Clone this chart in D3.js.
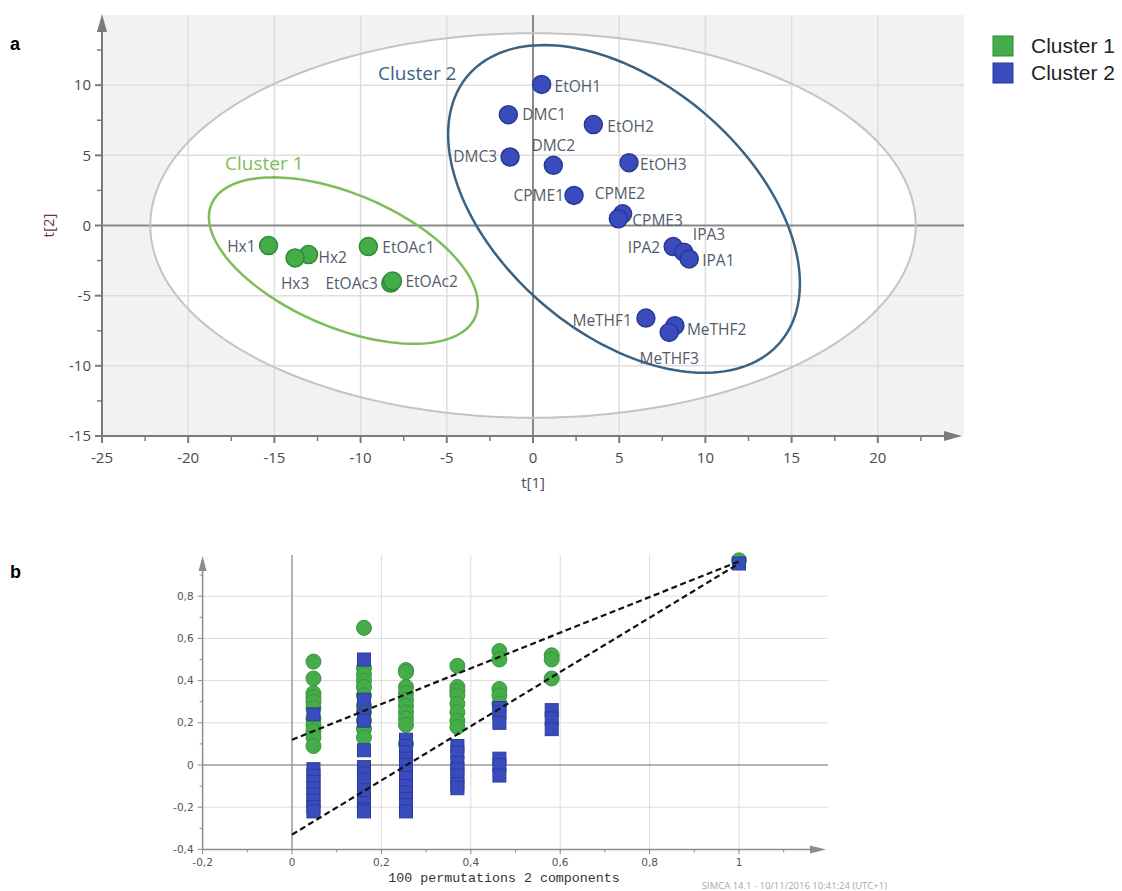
<!DOCTYPE html>
<html><head><meta charset="utf-8">
<script src="https://cdn.jsdelivr.net/npm/d3@7"></script>
<style>body{margin:0;background:#fff;} svg{display:block}</style>
</head><body>
<svg id="c" width="1122" height="891"></svg>
<script>
// ---------- Panel a data (PCA scores) ----------
const clusterNames = ["Cluster 1", "Cluster 2"];
const scoreNames = ["Hx1","Hx2","Hx3","EtOAc1","EtOAc3","EtOAc2","EtOH1","EtOH2","EtOH3","DMC1","DMC2","DMC3","CPME1","CPME2","CPME3","IPA2","IPA3","IPA1","MeTHF1","MeTHF2","MeTHF3"];
const scoreT1 = [-15.34,-13.02,-13.8,-9.55,-8.25,-8.15,0.5,3.5,5.57,-1.43,1.18,-1.33,2.38,5.2,4.95,8.13,8.75,9.06,6.55,8.23,7.9];
const scoreT2 = [-1.43,-2.07,-2.31,-1.5,-4.1,-3.95,10.05,7.19,4.48,7.9,4.29,4.88,2.14,0.83,0.48,-1.5,-1.9,-2.38,-6.6,-7.14,-7.62];
const scoreCluster = [0,0,0,0,0,0,1,1,1,1,1,1,1,1,1,1,1,1,1,1,1];
const xTicksA = [-25,-20,-15,-10,-5,0,5,10,15,20];
const yTicksA = [-15,-10,-5,0,5,10];
// ellipses: centre and two conjugate semi-axis vectors, in t[1]/t[2] units
const hotellingEllipse = {c:[0,0], u:[22.2,0], v:[0,13.7]};
const cluster1Ellipse = {c:[-11.0,-2.5], u:[7.65,-4.02], v:[1.51,4.36]};
const cluster2Ellipse = {c:[5.28,1.18], u:[9.06,-9.5], v:[4.69,6.79]};
const clusterLabelPos = [[-17.86,4.43],[-8.99,10.86]];

// ---------- Panel b data (permutation test) ----------
const permX = [0.048, 0.161, 0.255, 0.370, 0.464, 0.581, 1.0];
const r2Values = [
  [0.49,0.41,0.34,0.32,0.30,0.27,0.22,0.19,0.16,0.13,0.09],
  [0.65,0.46,0.43,0.40,0.37,0.33,0.28,0.25,0.21,0.17,0.13],
  [0.45,0.44,0.37,0.34,0.31,0.28,0.25,0.22,0.19,0.10],
  [0.47,0.37,0.35,0.33,0.29,0.25,0.21,0.18],
  [0.54,0.50,0.36,0.33,0.29],
  [0.52,0.50,0.41],
  [0.97]
];
const q2Values = [
  [0.24,-0.02,-0.05,-0.08,-0.11,-0.14,-0.17,-0.20,-0.22],
  [0.50,0.31,0.24,0.21,0.07,-0.01,-0.04,-0.07,-0.12,-0.15,-0.18,-0.21,-0.22],
  [0.12,0.09,0.06,0.03,0.0,-0.03,-0.06,-0.10,-0.13,-0.16,-0.19,-0.22],
  [0.09,0.06,0.01,-0.02,-0.05,-0.09,-0.11],
  [0.27,0.25,0.20,0.03,0.0,-0.05],
  [0.26,0.22,0.17],
  [0.955]
];
const r2Line = [[0,0.12],[1,0.965]];
const q2Line = [[0,-0.33],[1,0.955]];
const xTicksB = [-0.2,0,0.2,0.4,0.6,0.8,1];
const yTicksB = [-0.4,-0.2,0,0.2,0.4,0.6,0.8];
const xTitleB = "100 permutations 2 components";
const footerB = "SIMCA 14.1 - 10/11/2016 10:41:24 (UTC+1)";

// ---------- styles ----------
const fillCol = ["#44ac49", "#3a4cbd"];
const strokeCol = ["#2e8a36", "#283a92"];
const labelOffsets = {
  Hx1:[-13,1,"end"], Hx2:[10,3,"start"], Hx3:[0,26,"middle"],
  EtOAc1:[14,1,"start"], EtOAc3:[-13,1,"end"], EtOAc2:[13,1,"start"],
  EtOH1:[13,2,"start"], EtOH2:[14,2,"start"], EtOH3:[11,2,"start"],
  DMC1:[14,0,"start"], DMC2:[0,-20,"middle"], DMC3:[-13,0,"end"],
  CPME1:[-10,0,"end"], CPME2:[-28,-20,"start"], CPME3:[14,2,"start"],
  IPA2:[-13,1,"end"], IPA3:[9,-18,"start"], IPA1:[13,2,"start"],
  MeTHF1:[-14,2,"end"], MeTHF2:[12,4,"start"], MeTHF3:[0,26,"middle"]
};

const svg = d3.select("#c");
const font = "'Open Sans', 'Noto Sans', sans-serif";

// =============== PANEL A ===============
const xA = d3.scaleLinear().domain([-25,25]).range([102,964]);
const yA = d3.scaleLinear().domain([-15,15]).range([436,15]);
const gA = svg.append("g");

gA.append("rect").attr("x",xA(-25)).attr("y",yA(15)).attr("width",xA(25)-xA(-25)).attr("height",yA(-15)-yA(15)).attr("fill","#f2f2f2");

function ellipsePath(e){
  const pts = d3.range(0, 361, 2).map(a => {
    const t = a*Math.PI/180;
    return [xA(e.c[0] + e.u[0]*Math.cos(t) + e.v[0]*Math.sin(t)), yA(e.c[1] + e.u[1]*Math.cos(t) + e.v[1]*Math.sin(t))];
  });
  return d3.line()(pts) + "Z";
}
gA.append("path").attr("d", ellipsePath(hotellingEllipse)).attr("fill","#fff");

// grid
gA.selectAll(".gvx").data(xTicksA.filter(d=>d>-25 && d!==0)).join("line")
  .attr("x1",d=>xA(d)).attr("x2",d=>xA(d)).attr("y1",yA(15)).attr("y2",yA(-15))
  .attr("stroke","#dedede").attr("stroke-width",1.5);
gA.selectAll(".gvy").data(yTicksA.filter(d=>d>-15 && d!==0)).join("line")
  .attr("x1",xA(-25)).attr("x2",xA(25)).attr("y1",d=>yA(d)).attr("y2",d=>yA(d))
  .attr("stroke","#dedede").attr("stroke-width",1.5);
gA.append("line").attr("x1",xA(0)).attr("x2",xA(0)).attr("y1",yA(15)).attr("y2",yA(-15)).attr("stroke","#8a8a8a").attr("stroke-width",2);
gA.append("line").attr("x1",xA(-25)).attr("x2",xA(25)).attr("y1",yA(0)).attr("y2",yA(0)).attr("stroke","#8a8a8a").attr("stroke-width",2);

gA.append("path").attr("d", ellipsePath(hotellingEllipse)).attr("fill","none").attr("stroke","#c4c4c4").attr("stroke-width",2);
gA.append("path").attr("d", ellipsePath(cluster1Ellipse)).attr("fill","none").attr("stroke","#7dbd58").attr("stroke-width",2.5);
gA.append("path").attr("d", ellipsePath(cluster2Ellipse)).attr("fill","none").attr("stroke","#3a6283").attr("stroke-width",2.5);

// axes
const axCol = "#7a7a7a";
gA.append("line").attr("x1",xA(-25)).attr("x2",xA(25)-6).attr("y1",yA(-15)).attr("y2",yA(-15)).attr("stroke",axCol).attr("stroke-width",2);
gA.append("line").attr("x1",xA(-25)).attr("x2",xA(-25)).attr("y1",yA(-15)).attr("y2",yA(15)+6).attr("stroke",axCol).attr("stroke-width",2);
gA.append("path").attr("d",`M${xA(25)-2},${yA(-15)} l-18,-5 l0,10 Z`).attr("fill",axCol);
gA.append("path").attr("d",`M${xA(-25)},${yA(15)-1} l-5,18 l10,0 Z`).attr("fill",axCol);

const minorXA = d3.range(-22.5, 25, 5);
const minorYA = d3.range(-12.5, 15, 5);
gA.selectAll(".tx").data(xTicksA).join("line").attr("x1",d=>xA(d)).attr("x2",d=>xA(d)).attr("y1",yA(-15)).attr("y2",yA(-15)+7).attr("stroke",axCol).attr("stroke-width",2);
gA.selectAll(".tmx").data(minorXA).join("line").attr("x1",d=>xA(d)).attr("x2",d=>xA(d)).attr("y1",yA(-15)).attr("y2",yA(-15)+5).attr("stroke",axCol).attr("stroke-width",1.5);
gA.selectAll(".ty").data(yTicksA).join("line").attr("x1",xA(-25)-7).attr("x2",xA(-25)).attr("y1",d=>yA(d)).attr("y2",d=>yA(d)).attr("stroke",axCol).attr("stroke-width",2);
gA.selectAll(".tmy").data(minorYA).join("line").attr("x1",xA(-25)-5).attr("x2",xA(-25)).attr("y1",d=>yA(d)).attr("y2",d=>yA(d)).attr("stroke",axCol).attr("stroke-width",1.5);

gA.selectAll(".lx").data(xTicksA).join("text").attr("x",d=>xA(d)).attr("y",yA(-15)+27)
  .attr("text-anchor","middle").attr("font-family",font).attr("font-size",15).attr("fill","#4a4a4a").text(d=>d);
gA.selectAll(".ly").data(yTicksA).join("text").attr("x",xA(-25)-11).attr("y",d=>yA(d)).attr("dy","0.35em")
  .attr("text-anchor","end").attr("font-family",font).attr("font-size",15).attr("fill","#4a4a4a").text(d=>d);
gA.append("text").attr("x",xA(0)).attr("y",yA(-15)+52).attr("text-anchor","middle").attr("font-family",font).attr("font-size",15).attr("fill","#4a4f5e").text("t[1]");
gA.append("text").attr("transform",`translate(${xA(-25)-48},${yA(0)}) rotate(-90)`).attr("text-anchor","middle").attr("font-family",font).attr("font-size",15).attr("fill","#6a3a3a").text("t[2]");

// cluster annotations
gA.selectAll(".cl").data(clusterNames).join("text")
  .attr("x",(d,i)=>xA(clusterLabelPos[i][0])).attr("y",(d,i)=>yA(clusterLabelPos[i][1])).attr("dy","0.35em")
  .attr("font-family",font).attr("font-size",19).attr("fill",(d,i)=>i===0?"#80bd5e":"#3a6283").text(d=>d);

// points
const pts = scoreNames.map((n,i)=>({n, x:scoreT1[i], y:scoreT2[i], c:scoreCluster[i]}));
gA.selectAll(".pt").data(pts).join("circle").attr("cx",d=>xA(d.x)).attr("cy",d=>yA(d.y)).attr("r",9)
  .attr("fill",d=>fillCol[d.c]).attr("stroke",d=>strokeCol[d.c]).attr("stroke-width",1.5);
gA.selectAll(".pl").data(pts).join("text")
  .attr("x",d=>xA(d.x)+labelOffsets[d.n][0]).attr("y",d=>yA(d.y)+labelOffsets[d.n][1]).attr("dy","0.35em")
  .attr("text-anchor",d=>labelOffsets[d.n][2]).attr("font-family",font).attr("font-size",15.5).attr("fill","#525c6c").text(d=>d.n);

// legend
const lg = svg.append("g");
lg.selectAll("rect").data(clusterNames).join("rect").attr("x",993).attr("y",(d,i)=>36+i*27).attr("width",20).attr("height",20)
  .attr("fill",(d,i)=>fillCol[i]).attr("stroke",(d,i)=>strokeCol[i]).attr("stroke-width",1);
lg.selectAll("text").data(clusterNames).join("text").attr("x",1031).attr("y",(d,i)=>46+i*27).attr("dy","0.35em")
  .attr("font-family","'Liberation Sans', Arial, sans-serif").attr("font-size",21).attr("fill","#222").text(d=>d);

// panel letters
svg.append("text").attr("x",10).attr("y",50).attr("font-family","'Liberation Sans', Arial, sans-serif").attr("font-weight","bold").attr("font-size",18).text("a");
svg.append("text").attr("x",10).attr("y",578).attr("font-family","'Liberation Sans', Arial, sans-serif").attr("font-weight","bold").attr("font-size",18).text("b");

// =============== PANEL B ===============
const xB = d3.scaleLinear().domain([-0.2,1.2]).range([202.6,828.4]);
const yB = d3.scaleLinear().domain([-0.4,1.0]).range([849.4,554]);
const gB = svg.append("g");
const fmtB = d => d===0 ? "0" : (d===1 ? "1" : d3.format(".1f")(d).replace(".",",").replace("−","-"));

gB.selectAll(".gx").data(xTicksB.filter(d=>d>0)).join("line").attr("x1",d=>xB(d)).attr("x2",d=>xB(d)).attr("y1",555).attr("y2",yB(-0.4))
  .attr("stroke","#dcdcdc").attr("stroke-width",1);
gB.selectAll(".gy").data(yTicksB.filter(d=>d!==0 && d>-0.4)).join("line").attr("x1",xB(-0.2)).attr("x2",828).attr("y1",d=>yB(d)).attr("y2",d=>yB(d))
  .attr("stroke","#dcdcdc").attr("stroke-width",1);
gB.append("line").attr("x1",xB(0)).attr("x2",xB(0)).attr("y1",555).attr("y2",yB(-0.4)).attr("stroke","#9a9a9a").attr("stroke-width",1.5);
gB.append("line").attr("x1",xB(-0.2)).attr("x2",828).attr("y1",yB(0)).attr("y2",yB(0)).attr("stroke","#9a9a9a").attr("stroke-width",1.5);

const axB = "#8c8c8c";
gB.append("line").attr("x1",xB(-0.2)).attr("x2",814).attr("y1",yB(-0.4)).attr("y2",yB(-0.4)).attr("stroke",axB).attr("stroke-width",1.5);
gB.append("line").attr("x1",xB(-0.2)).attr("x2",xB(-0.2)).attr("y1",yB(-0.4)).attr("y2",570).attr("stroke",axB).attr("stroke-width",1.5);
gB.append("path").attr("d",`M826,${yB(-0.4)} l-16,-4 l0,8 Z`).attr("fill",axB);
gB.append("path").attr("d",`M${xB(-0.2)},556 l-4,15 l8,0 Z`).attr("fill",axB);

const minorXB = d3.range(-0.1, 1.15, 0.2);
const minorYB = d3.range(-0.3, 0.95, 0.2);
gB.selectAll(".tx").data(xTicksB).join("line").attr("x1",d=>xB(d)).attr("x2",d=>xB(d)).attr("y1",yB(-0.4)).attr("y2",yB(-0.4)+5).attr("stroke",axB);
gB.selectAll(".tmx").data(minorXB).join("line").attr("x1",d=>xB(d)).attr("x2",d=>xB(d)).attr("y1",yB(-0.4)).attr("y2",yB(-0.4)+3).attr("stroke",axB);
gB.selectAll(".ty").data(yTicksB).join("line").attr("x1",xB(-0.2)-5).attr("x2",xB(-0.2)).attr("y1",d=>yB(d)).attr("y2",d=>yB(d)).attr("stroke",axB);
gB.selectAll(".tmy").data(minorYB).join("line").attr("x1",xB(-0.2)-3).attr("x2",xB(-0.2)).attr("y1",d=>yB(d)).attr("y2",d=>yB(d)).attr("stroke",axB);

const bFont = "'DejaVu Sans', Verdana, sans-serif";
gB.selectAll(".lx").data(xTicksB).join("text").attr("x",d=>xB(d)).attr("y",yB(-0.4)+17).attr("text-anchor","middle")
  .attr("font-family",bFont).attr("font-size",10.5).attr("fill","#555").text(fmtB);
gB.selectAll(".ly").data(yTicksB).join("text").attr("x",xB(-0.2)-9).attr("y",d=>yB(d)).attr("dy","0.35em").attr("text-anchor","end")
  .attr("font-family",bFont).attr("font-size",10.5).attr("fill","#555").text(fmtB);
gB.append("text").attr("x",504).attr("y",882).attr("text-anchor","middle").attr("font-family","'Liberation Mono', 'DejaVu Sans Mono', monospace")
  .attr("font-size",13.3).attr("fill","#333").text(xTitleB);
gB.append("text").attr("x",887).attr("y",889).attr("text-anchor","end").attr("font-family",font).attr("font-size",9.5).attr("fill","#a8a8a8").text(footerB);

const r2Pts = permX.flatMap((x,i)=>r2Values[i].map(v=>({x,v})));
const q2Pts = permX.flatMap((x,i)=>q2Values[i].map(v=>({x,v})));
gB.selectAll(".r2").data(r2Pts).join("circle").attr("cx",d=>xB(d.x)).attr("cy",d=>yB(d.v)).attr("r",7.5)
  .attr("fill","#46ac4a").attr("stroke","#36973c").attr("stroke-width",1);
gB.selectAll(".q2").data(q2Pts).join("rect").attr("x",d=>xB(d.x)-6.5).attr("y",d=>yB(d.v)-6.5).attr("width",13).attr("height",13)
  .attr("fill","#3a4cbd").attr("stroke","#2c3c9a").attr("stroke-width",1);

const lineB = d3.line().x(d=>xB(d[0])).y(d=>yB(d[1]));
[r2Line,q2Line].forEach(l=>{
  gB.append("path").attr("d",lineB(l)).attr("fill","none").attr("stroke","#111").attr("stroke-width",2.2).attr("stroke-dasharray","6,3.5");
});
</script>
</body></html>
